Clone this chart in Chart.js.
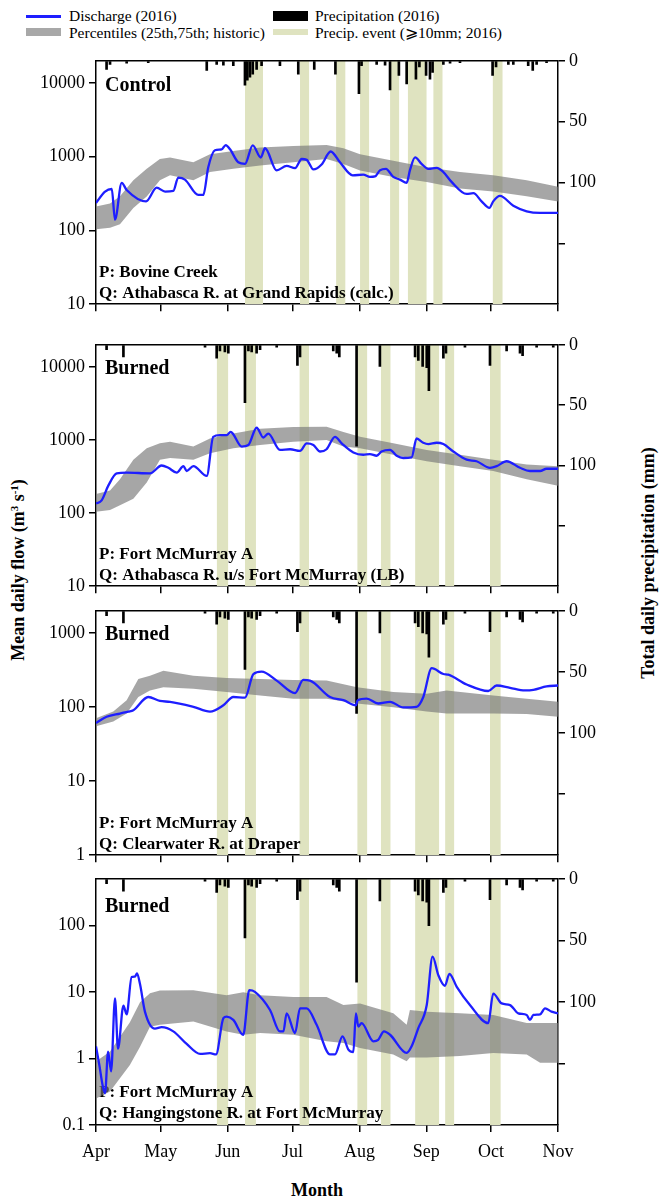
<!DOCTYPE html>
<html><head><meta charset="utf-8">
<script src="https://cdn.jsdelivr.net/npm/chart.js@4.4.1/dist/chart.umd.min.js"></script>
<style>
body{margin:0;background:#fff;}
#wrap{position:relative;width:663px;height:1200px;overflow:hidden;font-family:"Liberation Serif","Times New Roman",serif;color:#000;background:#fff;}
canvas{position:absolute;left:0;}
.t{position:absolute;white-space:nowrap;line-height:1;font-family:"Liberation Serif","Times New Roman",serif;}
.leg{font-size:15.5px;transform:translateY(-50%);}
.sw{position:absolute;}
.rot{font-size:18px;font-weight:bold;transform:translate(-50%,-50%) rotate(-90deg);}
sup{font-size:11px;vertical-align:6px;line-height:0;}
</style></head><body><div id="wrap">
<div class="sw" style="left:26px;top:15px;width:35px;height:2.5px;background:#1e1eff"></div>
<div class="t leg" style="left:69px;top:16px">Discharge (2016)</div>
<div class="sw" style="left:26px;top:28px;width:35px;height:8px;background:#a8a8a8"></div>
<div class="t leg" style="left:69px;top:33px">Percentiles (25th,75th; historic)</div>
<div class="sw" style="left:273px;top:11px;width:35px;height:10px;background:#000"></div>
<div class="t leg" style="left:315px;top:16px">Precipitation (2016)</div>
<div class="sw" style="left:273px;top:29px;width:35px;height:6px;background:#dfe3c0"></div>
<div class="t leg" style="left:315px;top:33px">Precip. event (⩾10mm; 2016)</div>
<div class="t rot" style="left:18px;top:570px">Mean daily flow (m<sup>3</sup> s<sup>-1</sup>)</div>
<div class="t rot" style="left:648px;top:563px">Total daily precipitation (mm)</div>
<div class="t" style="left:317px;top:1190px;font-size:18px;font-weight:bold;transform:translate(-50%,-50%)">Month</div>
</div>
<script>
// ---- axis ticks ----
const monthTicks = [0,30,61,91,122,153,183,214];
const monthLabels = ['Apr','May','Jun','Jul','Aug','Sep','Oct','Nov'];
const precipTicks = [0,50,100,150];

// ---- Panel 1: Control (Athabasca R. at Grand Rapids) ----
const q1Day = [0,4.2,7.3,8.8,11.9,14.2,23.2,28.1,32,35.8,38.1,41.2,47.4,49.7,52,55.1,58.2,60.1,62.1,65.9,69,72.6,76.3,78.3,83.7,88.3,92.2,95.3,97.6,100.7,104.5,108.7,113,118.9,123.8,126.9,129.2,131.5,134.3,137.7,140.8,143.9,145.4,147.8,150.8,153.9,157.8,160.9,164.7,171.7,174.8,178.6,182.2,184,187.1,193.3,199.5,205.7,214];
const q1Flow = [236,336,365,140,443,354,248,380,337,343,521,490,303,303,721,1225,1260,1441,1260,841,800,1428,977,1303,652,752,700,931,907,672,783,1178,841,560,571,532,540,652,686,532,490,443,652,979,800,686,707,620,456,313,320,248,202,248,294,217,182,173,173];
const b1Day = [0,6.5,11.1,17.3,23.5,29.6,34.3,45.1,52.8,63.6,76,91.4,106.8,114.6,122.3,137.7,153.2,168.6,184,199.5,214];
const b1Hi = [212,233,290,480,686,931,979,841,1084,1200,1330,1400,1441,1300,1084,885,721,620,560,480,392];
const b1Lo = [104,109,121,202,288,479,560,479,620,686,760,841,931,800,652,532,456,372,337,290,248];
const pBcDay = [4.9,6.5,14.2,24.2,51.3,55.9,59,63.6,69,70.1,71.3,72.6,74.4,76.7,85.2,93.7,101.1,110.9,121.8,123,130,133.9,136.2,140.3,143.9,148.2,149.8,152.9,154.7,155.9,160.9,164,168.6,183.7,185.3,191,193.3,200.2,202.3,204.1,208.7];
const pBcRain = [7,3,2,1.5,8,3,3.5,4,20,16,13.5,11,7,4,4,11,7,11,27,4,3,3.5,24,12,19,15,5,12,15,9.5,3,2,1.5,12,5,3,3,4,8,3,1.5];
const e1Start = [69,94.5,111.2,122.3,136.2,144.4,156.2,183.7];
const e1End = [77.4,98.8,115.6,126.6,140.5,153.2,160.6,188.4];

// ---- Fort McMurray A precipitation & events (panels 2-4) ----
const pFmDay = [4.9,12.7,50.5,55.9,57.4,59.7,61.3,69,70.6,72.1,74.4,76,83.7,93.3,94.5,109.9,111.5,112.7,120.7,131.5,147.8,149.3,151.3,153.2,154.2,160.9,162.1,170.9,182.5,190.2,196.4,197.6,204.1,211.8];
const pFmRain = [4,10,2,11,5,6,7,48,5,6,7,4,2,17,10,5,7,10,84,18,10,13,18,19,38,11,7,2,17,5,7,9,2,2];
const eFmStart = [55.9,69,94.2,121,131.9,147.8,161.7,182.5];
const eFmEnd = [61.3,74.1,98.7,125.7,136.5,159,166,187.5];

// ---- Panel 2: Athabasca R. u/s Fort McMurray ----
const q2Day = [0,2.6,5.7,9.6,14.2,25,30.4,33.5,37.4,40.5,42,45.1,51.3,54.3,57.4,60.5,62.4,67.5,70.6,74.4,77.5,79.8,85.2,89.9,94.5,97.6,100.7,103.8,106.8,110.7,113.8,119.2,123.8,126.9,130,132.3,136.2,139.3,142.3,146.2,148.5,151.6,153.9,157.8,160.9,165.5,171.7,176.3,182.5,185.6,190.2,196.4,201,205.7,208.7,214];
const q2Flow = [135,149,237,349,357,349,447,416,357,438,376,438,322,1102,1161,1161,1285,811,853,1469,1080,1221,731,746,709,898,853,695,746,1102,898,675,627,640,608,695,731,608,566,578,1047,916,878,916,878,695,537,511,416,438,511,416,376,376,404,404];
const b2Day = [0,6.5,11.1,17.3,23.5,29.6,34.3,45.1,52.8,63.6,76,91.4,106.8,114.6,122.3,137.7,153.2,168.6,184,199.5,214];
const b2Hi = [183,203,290,537,769,898,946,811,1047,1221,1425,1500,1520,1285,1102,898,731,627,537,461,438];
const b2Lo = [104,110,128,157,262,537,566,537,660,769,853,946,996,811,769,627,511,438,376,290,237];

// ---- Panel 3: Clearwater R. at Draper ----
const q3Day = [0,4.9,11.1,15,17.3,24.2,29.6,34.3,45.1,52.8,59,63.6,69,72.9,76.7,83.7,92.2,96,99.1,108.4,114.6,120.4,121.2,125.4,130.7,136.2,142.3,148.5,151.6,155.5,160.9,163.2,171.7,181.7,185.6,191.8,198.7,202.6,208.7,214];
const q3Flow = [61,74,82,87,91,137,121,118,101,87,106,137,134,280,301,228,155,233,228,137,124,106,124,130,112,118,99,101,137,336,280,274,202,165,196,182,168,171,190,196];
const b3Day = [0,8,14.2,19.6,25,31.2,45.1,60.5,76,91.4,106.8,120.9,137.7,153.2,162.4,184,199.5,214];
const b3Hi = [71,87,124,240,266,310,266,248,240,233,228,186,160,152,168,144,130,118];
const b3Lo = [55,64,82,137,168,186,177,160,144,130,130,112,100,87,82,82,81,74];

// ---- Panel 4: Hangingstone R. at Fort McMurray ----
const q4Day = [0,1.5,3.1,4.2,5.6,7,8.8,10.2,12.7,14.2,16.5,18.1,19,20.4,22.7,27.3,30.4,35.8,42,48.2,52.8,55.6,59,60.5,63.6,68.2,71,73.6,80.6,85.2,86.8,88.3,92.2,94.5,97.6,102.2,108.4,110.7,114.2,116.9,119.2,120.4,121.5,123,128.5,130.7,133.4,136.2,143.9,146.2,149.3,153.2,155.9,158.6,161.6,163.7,167.1,173.2,181.7,184,187.9,191.8,195.6,199.5,201,202.6,205.7,208,211,214];
const q4Flow = [1.52,0.81,0.39,0.3,1.27,0.64,8,1.4,6.2,4.6,16.7,17,19,13,5,2.8,2.95,2.55,1.65,1.17,1.2,1.15,4.02,4.25,3.79,2.27,10.6,10,5.34,2.55,2.55,4.76,2.41,5.65,5.65,3.2,1.15,1.15,2.15,1.36,1.25,4.76,3.02,3.39,1.81,1.9,2.55,2.27,1.21,1.52,2.85,6.34,33.9,17.7,12.3,18.7,11.9,6.34,3.39,9.44,6.71,6.34,4.76,4.5,3.79,4.5,4.6,5.65,5.05,4.76];
const b4Day = [0,6.5,15.7,20.4,25,29.6,45.1,60.5,68.2,76,91.4,106.8,114.6,122.3,137.7,143.9,145.4,153.2,168.6,184,199.5,205.7,214];
const b4Hi = [0.9,1.27,3.5,7,9.5,10.5,10.6,8.9,9.9,8.9,8.4,8.4,6.34,6.7,4.76,3.2,5.35,5.05,4.76,4.5,3.4,3.4,3.4];
const b4Lo = [0.25,0.32,0.8,1.5,3.0,3.2,3.58,2.55,2.27,2.41,2.27,1.81,1.7,1.44,1.15,0.91,1.03,1.03,1.09,1.21,1.15,0.86,0.86];

const FONT = '"Liberation Serif","Times New Roman",serif';
const panels = [
  {top:58,bottom:307,yMin:10,yMax:20000,yTicks:[10,100,1000,10000],name:'Control',nameDy:25,p:'P: Bovine Creek',q:'Q: Athabasca R. at Grand Rapids (calc.)',qd:q1Day,qf:q1Flow,bd:b1Day,bl:b1Lo,bh:b1Hi,pd:pBcDay,pr:pBcRain,es:e1Start,ee:e1End,showX:false},
  {top:342,bottom:589,yMin:10,yMax:20000,yTicks:[10,100,1000,10000],name:'Burned',nameDy:24,p:'P: Fort McMurray A',q:'Q: Athabasca R. u/s Fort McMurray (LB)',qd:q2Day,qf:q2Flow,bd:b2Day,bl:b2Lo,bh:b2Hi,pd:pFmDay,pr:pFmRain,es:eFmStart,ee:eFmEnd,showX:false},
  {top:608,bottom:858,yMin:1,yMax:2000,yTicks:[1,10,100,1000],name:'Burned',nameDy:24,p:'P: Fort McMurray A',q:'Q: Clearwater R. at Draper',qd:q3Day,qf:q3Flow,bd:b3Day,bl:b3Lo,bh:b3Hi,pd:pFmDay,pr:pFmRain,es:eFmStart,ee:eFmEnd,showX:false},
  {top:876,bottom:1125,yMin:0.1,yMax:500,yTicks:[0.1,1,10,100],name:'Burned',nameDy:28,p:'P: Fort McMurray A',q:'Q: Hangingstone R. at Fort McMurray',qd:q4Day,qf:q4Flow,bd:b4Day,bl:b4Lo,bh:b4Hi,pd:pFmDay,pr:pFmRain,es:eFmStart,ee:eFmEnd,showX:true}
];

const PADTOP = 12;
const framePlugin = {
  id:'frame',
  afterDatasetsDraw(chart){
    const {ctx, chartArea:a} = chart;
    ctx.save(); ctx.strokeStyle='#000'; ctx.lineWidth=1.5;
    ctx.beginPath(); ctx.moveTo(a.left,a.top); ctx.lineTo(a.right,a.top); ctx.stroke();
    ctx.restore();
  }
};
const labelPlugin = {
  id:'panelLabels',
  afterDatasetDraw(chart,args){
    if(args.index!==4) return;
    const o = chart.options.plugins.panelLabels;
    const {ctx, chartArea:a} = chart;
    ctx.save(); ctx.fillStyle='#000'; ctx.textBaseline='middle'; ctx.textAlign='left';
    ctx.font = 'bold 20px '+FONT;
    ctx.fillText(o.name, a.left+9, a.top+o.nameDy);
    ctx.font = 'bold 17px '+FONT;
    ctx.fillText(o.p, a.left+3, a.bottom-32);
    ctx.fillText(o.q, a.left+3, a.bottom-11);
    ctx.restore();
  }
};

const wrap = document.getElementById('wrap');
panels.forEach((P,i)=>{
  const xh = P.showX ? 45 : 12;
  const h = PADTOP + (P.bottom-P.top) + xh;
  const c = document.createElement('canvas');
  c.width = 663; c.height = h;
  c.style.top = (P.top-PADTOP)+'px'; c.style.width='663px'; c.style.height=h+'px';
  wrap.appendChild(c);
  const evData = [];
  P.es.forEach((s,k)=>{ evData.push({x:s,y:1},{x:P.ee[k],y:1},{x:P.ee[k]+0.01,y:null}); });
  const tickFont = {family:FONT,size:18};
  const gridCfg = {display:true,drawOnChartArea:false,drawTicks:true,tickLength:7,color:'#000',lineWidth:1.5,offset:false};
  new Chart(c,{
    type:'line',
    data:{datasets:[
      {label:'Discharge (2016)',data:P.qd.map((d,k)=>({x:d,y:P.qf[k]})),borderColor:'#1e1eff',borderWidth:2.3,pointRadius:0,cubicInterpolationMode:'monotone',fill:false,order:0,yAxisID:'y'},
      {type:'bar',label:'Precipitation (2016)',data:P.pd.map((d,k)=>({x:d,y:P.pr[k]})),backgroundColor:'#000',barThickness:2,order:1,yAxisID:'yP'},
      {label:'75th',data:P.bd.map((d,k)=>({x:d,y:P.bh[k]})),borderWidth:0,pointRadius:0,backgroundColor:'rgba(120,120,120,0.66)',fill:'+1',order:2,yAxisID:'y'},
      {label:'25th',data:P.bd.map((d,k)=>({x:d,y:P.bl[k]})),borderWidth:0,pointRadius:0,fill:false,order:2,yAxisID:'y'},
      {label:'Precip. event',data:evData,borderWidth:0,pointRadius:0,backgroundColor:'#dfe3c0',fill:'origin',spanGaps:false,order:3,yAxisID:'yE'}
    ]},
    options:{
      responsive:false,animation:false,devicePixelRatio:1,
      layout:{padding:{top:PADTOP,left:0,right:0,bottom:0}},
      plugins:{legend:{display:false},tooltip:{enabled:false},panelLabels:{name:P.name,nameDy:P.nameDy,p:P.p,q:P.q}},
      scales:{
        x:{type:'linear',min:0,max:214,offset:false,
          afterBuildTicks:s=>{s.ticks=monthTicks.map(v=>({value:v}));},
          afterFit:s=>{s.height=xh;},
          ticks:{display:P.showX,autoSkip:false,maxRotation:0,padding:9,color:'#000',font:tickFont,
            callback:v=>monthLabels[monthTicks.indexOf(v)]},
          grid:gridCfg,border:{display:true,color:'#000',width:1.5}},
        y:{type:'logarithmic',position:'left',min:P.yMin,max:P.yMax,
          afterBuildTicks:s=>{s.ticks=P.yTicks.map(v=>({value:v}));},
          afterFit:s=>{s.width=96;},
          ticks:{autoSkip:false,padding:4,color:'#000',font:tickFont,callback:v=>String(v)},
          grid:gridCfg,border:{display:true,color:'#000',width:1.5}},
        yP:{type:'linear',position:'right',reverse:true,min:0,max:200,
          afterBuildTicks:s=>{s.ticks=precipTicks.map(v=>({value:v}));},
          afterFit:s=>{s.width=105;},
          ticks:{autoSkip:false,padding:4,color:'#000',font:tickFont,callback:v=>(v===150?'':String(v))},
          grid:gridCfg,border:{display:true,color:'#000',width:1.5}},
        yE:{type:'linear',display:false,min:0,max:1}
      }
    },
    plugins:[framePlugin,labelPlugin]
  });
});
</script>
</body></html>
